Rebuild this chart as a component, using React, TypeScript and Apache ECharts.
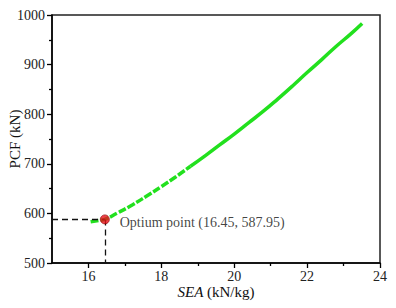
import React, { useEffect, useRef } from "react";
import * as echarts from "echarts";

const sea = [16.06, 16.3, 16.45, 16.8, 17.2, 17.6, 18.0, 18.4, 18.8, 19.2, 19.6, 20.0, 20.4, 20.8, 21.2, 21.6, 22.0, 22.4, 22.8, 23.2, 23.51];
const pcf = [583, 586, 588, 601, 617, 635, 654, 674, 695, 716, 738, 760, 783, 806, 831, 857, 884, 910, 937, 962, 983];
const splitIndex = 8;
const optimum = [16.45, 587.95];
const optimumLabel = "Optium point (16.45, 587.95)";
const xMajorTicks = [16, 18, 20, 22, 24];
const xMinorTicks = [17, 19, 21, 23];

const FONT = "Times New Roman";
const GREEN = "#22e01e";

export default function App() {
  const ref = useRef<HTMLDivElement>(null);
  useEffect(() => {
    if (!ref.current) return;
    const chart = echarts.init(ref.current, null, { renderer: "svg" });
    const pts = sea.map((x, i) => [x, pcf[i]]);
    const lower = pts.slice(0, splitIndex + 1);
    const upper = pts.slice(splitIndex);
    chart.setOption({
      animation: false,
      textStyle: { fontFamily: FONT },
      grid: {
        left: 52, right: 16, top: 15, bottom: 45,
        containLabel: false, outerBoundsMode: "none",
        show: true, borderColor: "#222", borderWidth: 1.5, backgroundColor: "transparent",
      },
      xAxis: [
        {
          type: "value", min: 15, max: 24, interval: 1,
          name: "{i|SEA} (kN/kg)", nameLocation: "middle", nameGap: 21, nameMoveOverlap: false,
          nameTextStyle: {
            fontFamily: FONT, fontSize: 15, color: "#111",
            rich: { i: { fontFamily: FONT, fontSize: 15, fontStyle: "italic", color: "#111" } },
          },
          axisLine: { show: true, lineStyle: { color: "#000", width: 1.5 } },
          axisTick: { show: true, inside: false, customValues: xMajorTicks, length: 5, lineStyle: { color: "#000", width: 1.3 } },
          axisLabel: { customValues: xMajorTicks, fontFamily: FONT, fontSize: 14, color: "#222", margin: 6 },
          splitLine: { show: false },
        },
        {
          type: "value", min: 15, max: 24, interval: 1, position: "bottom",
          axisLine: { show: false },
          axisTick: { show: true, inside: false, customValues: xMinorTicks, length: 3, lineStyle: { color: "#000", width: 1.3 } },
          axisLabel: { show: false },
          splitLine: { show: false },
        },
      ],
      yAxis: {
        type: "value", min: 500, max: 1000, interval: 100,
        name: "PCF (kN)", nameLocation: "middle", nameGap: 30, nameRotate: 90, nameMoveOverlap: false,
        nameTextStyle: { fontFamily: FONT, fontSize: 15, color: "#111" },
        axisLine: { show: true, lineStyle: { color: "#000", width: 1.5 } },
        axisTick: { show: true, inside: false, length: 5, lineStyle: { color: "#000", width: 1.3 } },
        minorTick: { show: true, splitNumber: 2, length: 3, lineStyle: { color: "#000", width: 1.3 } },
        axisLabel: { fontFamily: FONT, fontSize: 14, color: "#222", margin: 7, formatter: (v: number) => String(v) },
        splitLine: { show: false },
      },
      series: [
        {
          type: "line", data: lower, smooth: true, symbol: "none",
          lineStyle: { color: GREEN, width: 3.5, type: [8, 2] },
        },
        {
          type: "line", data: upper, smooth: true, symbol: "none",
          lineStyle: { color: GREEN, width: 3.5 },
        },
        {
          type: "scatter", data: [optimum], symbolSize: 9, z: 5,
          itemStyle: { color: "#e8101a", borderColor: "#8a0000", borderWidth: 0.8 },
          label: {
            show: true, position: "right", distance: 10, offset: [0, 3],
            formatter: optimumLabel, fontFamily: FONT, fontSize: 14, color: "#111",
          },
          markLine: {
            silent: true, symbol: "none", label: { show: false },
            lineStyle: { color: "#111", width: 1.3, type: [6, 4] },
            data: [
              [{ coord: [15, optimum[1]] }, { coord: [optimum[0], optimum[1]] }],
              [{ coord: [optimum[0], optimum[1]] }, { coord: [optimum[0], 500] }],
            ],
          },
        },
      ],
    });
    return () => chart.dispose();
  }, []);
  return <div ref={ref} style={{ width: 396, height: 308, position: "absolute", left: 0, top: 0 }} />;
}
